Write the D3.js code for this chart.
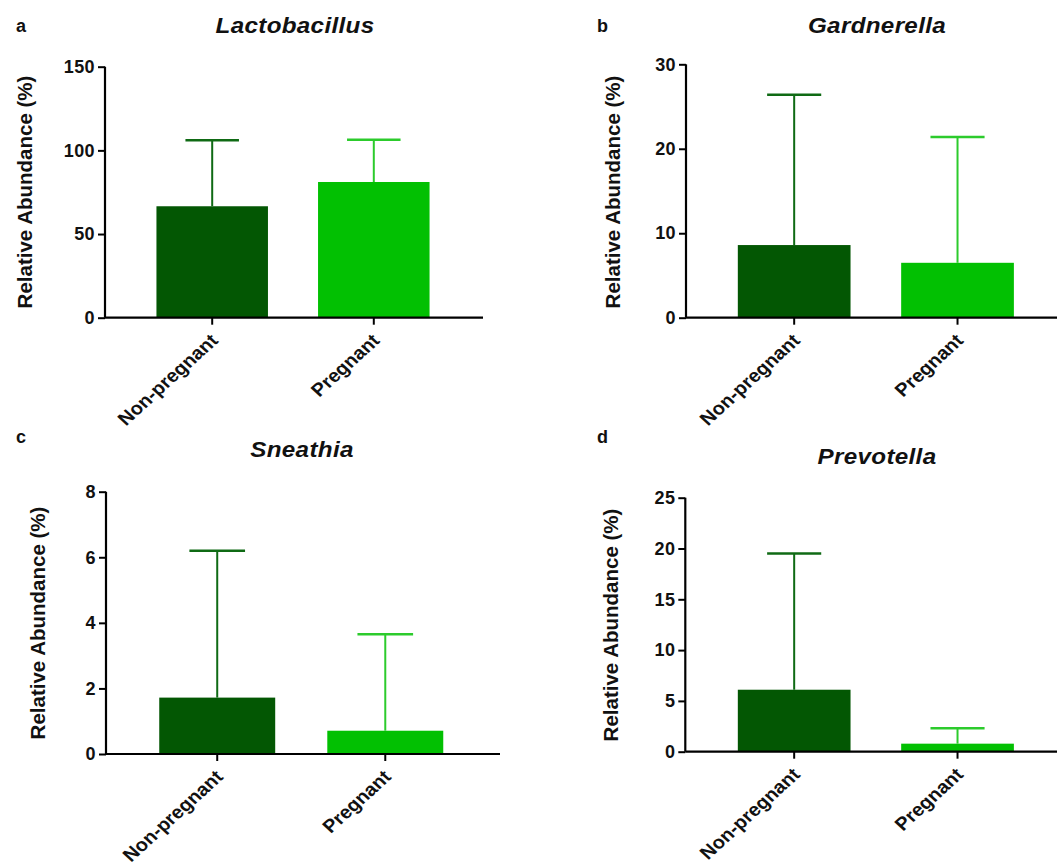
<!DOCTYPE html>
<html>
<head>
<meta charset="utf-8">
<script src="https://cdn.jsdelivr.net/npm/d3@7"></script>
<style>
  html, body { margin: 0; padding: 0; background: #ffffff; }
  svg { display: block; font-family: Arial, "Liberation Sans", sans-serif; }
</style>
</head>
<body>
<svg id="chart" width="1057" height="865"></svg>
<script>
// ---- Data ----
const groups = ["Non-pregnant", "Pregnant"];
const panelLetters = ["a", "b", "c", "d"];
const panelTitles = ["Lactobacillus", "Gardnerella", "Sneathia", "Prevotella"];
const yMax = [150, 30, 8, 25];
const yTicks = [[0, 50, 100, 150], [0, 10, 20, 30], [0, 2, 4, 6, 8], [0, 5, 10, 15, 20, 25]];
const meanNonPregnant = [66.6, 8.6, 1.72, 6.1];
const meanPregnant = [81.1, 6.5, 0.71, 0.79];
const errTopNonPregnant = [106.0, 26.4, 6.2, 19.5];
const errTopPregnant = [106.4, 21.4, 3.65, 2.3];

const barColors = ["#035703", "#02c002"];
const errColors = ["#0f6a14", "#2ccb2c"];

// ---- Layout per panel (pixel geometry) ----
const layout = [
  { axisX: 105, top: 66.7, bottom: 317.7, right: 483, band: [131.4, 454.6], letter: [16, 32], title: [295, 33], ylab: [25, 192] },
  { axisX: 686, top: 64.3, bottom: 317.7, right: 1057, band: [712.5, 1039.2], letter: [597, 32], title: [877, 33], ylab: [613, 192] },
  { axisX: 106, top: 491.7, bottom: 754, right: 500, band: [133.2, 469.3], letter: [16, 443], title: [302, 457], ylab: [38, 623] },
  { axisX: 685.3, top: 497.7, bottom: 751.7, right: 1057, band: [712.5, 1039.2], letter: [597, 443], title: [877, 464], ylab: [611, 625] }
];
const hStretch = 1.1; // the original figure is slightly stretched horizontally

const svg = d3.select("#chart");

panelTitles.forEach((title, i) => {
  const L = layout[i];
  const g = svg.append("g");
  const y = d3.scaleLinear().domain([0, yMax[i]]).range([L.bottom, L.top]);
  const x = d3.scaleBand().domain(groups).range(L.band).paddingInner(0.31).paddingOuter(0.155);

  const data = groups.map((name, k) => ({
    name,
    mean: k === 0 ? meanNonPregnant[i] : meanPregnant[i],
    err: k === 0 ? errTopNonPregnant[i] : errTopPregnant[i],
    k
  }));

  // bars
  g.selectAll("rect.bar").data(data).join("rect")
    .attr("class", "bar")
    .attr("x", d => x(d.name))
    .attr("width", x.bandwidth())
    .attr("y", d => y(d.mean))
    .attr("height", d => y(0) - y(d.mean))
    .attr("fill", d => barColors[d.k]);

  // error bars (upper only)
  const capHalf = x.bandwidth() * 0.24;
  g.selectAll("line.err").data(data).join("line")
    .attr("class", "err")
    .attr("x1", d => x(d.name) + x.bandwidth() / 2)
    .attr("x2", d => x(d.name) + x.bandwidth() / 2)
    .attr("y1", d => y(d.mean))
    .attr("y2", d => y(d.err))
    .attr("stroke", d => errColors[d.k])
    .attr("stroke-width", 2);
  g.selectAll("line.cap").data(data).join("line")
    .attr("class", "cap")
    .attr("x1", d => x(d.name) + x.bandwidth() / 2 - capHalf)
    .attr("x2", d => x(d.name) + x.bandwidth() / 2 + capHalf)
    .attr("y1", d => y(d.err))
    .attr("y2", d => y(d.err))
    .attr("stroke", d => errColors[d.k])
    .attr("stroke-width", 2.5);

  // y axis
  const yAxis = d3.axisLeft(y).tickValues(yTicks[i]).tickSize(7).tickPadding(3).tickFormat(d3.format("d"));
  const ya = g.append("g").attr("transform", `translate(${L.axisX},0)`).call(yAxis);
  ya.select(".domain").attr("d", `M0,${L.bottom}V${L.top}`).attr("stroke", "#000").attr("stroke-width", 2.2);
  ya.selectAll(".tick line").attr("stroke", "#000").attr("stroke-width", 2);
  ya.selectAll(".tick text").attr("fill", "#111").style("font-size", "18px").style("font-weight", "bold")
    .style("letter-spacing", "0.4px")
    .style("font-family", "Arial, 'Liberation Sans', sans-serif");

  // x axis
  const xAxis = d3.axisBottom(x).tickSize(7).tickFormat("");
  const xa = g.append("g").attr("transform", `translate(0,${L.bottom})`).call(xAxis);
  xa.select(".domain").attr("d", `M${L.axisX},0H${L.right}`).attr("stroke", "#000").attr("stroke-width", 2.2);
  xa.selectAll(".tick line").attr("stroke", "#000").attr("stroke-width", 2);

  // rotated category labels
  g.selectAll("text.xlab").data(groups).join("text")
    .attr("class", "xlab")
    .attr("transform", d => `translate(${x(d) + x.bandwidth() / 2 + 7},${L.bottom + 24}) scale(${hStretch},1) rotate(-45)`)
    .attr("text-anchor", "end")
    .attr("fill", "#111")
    .style("font-size", "18.3px")
    .style("font-weight", "bold")
    .text(d => d);

  // y label
  g.append("text")
    .attr("transform", `translate(${L.ylab[0]},${L.ylab[1]}) rotate(-90)`)
    .attr("text-anchor", "middle")
    .attr("dy", "0.35em")
    .attr("fill", "#111")
    .style("font-size", "20.5px")
    .style("font-weight", "bold")
    .text("Relative Abundance (%)");

  // title
  g.append("text")
    .attr("transform", `translate(${L.title[0]},${L.title[1]}) scale(${hStretch},1)`)
    .attr("text-anchor", "middle")
    .attr("fill", "#111")
    .style("font-size", "22px")
    .style("font-weight", "bold")
    .style("font-style", "italic")
    .style("letter-spacing", "0.3px")
    .text(title);

  // panel letter
  g.append("text")
    .attr("x", L.letter[0]).attr("y", L.letter[1])
    .attr("fill", "#111")
    .style("font-size", "18px")
    .style("font-weight", "bold")
    .text(panelLetters[i]);
});
</script>
</body>
</html>
